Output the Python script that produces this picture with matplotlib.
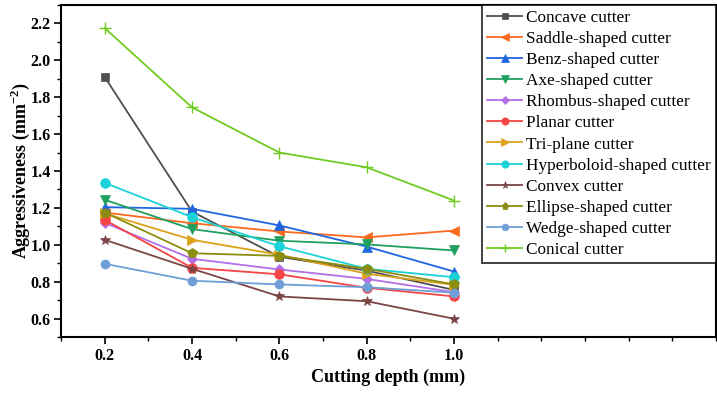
import matplotlib
matplotlib.use("Agg")
import matplotlib.pyplot as plt
from matplotlib.ticker import MultipleLocator

plt.rcParams['font.family'] = ['Liberation Serif', 'DejaVu Serif']
plt.rcParams['mathtext.fontset'] = 'custom'
plt.rcParams['mathtext.rm'] = 'Liberation Serif'
plt.rcParams['mathtext.bf'] = 'Liberation Serif:bold'

depth = [0.2, 0.4, 0.6, 0.8, 1.0]

names = ["Concave cutter", "Saddle-shaped cutter", "Benz-shaped cutter", "Axe-shaped cutter",
         "Rhombus-shaped cutter", "Planar cutter", "Tri-plane cutter", "Hyperboloid-shaped cutter",
         "Convex cutter", "Ellipse-shaped cutter", "Wedge-shaped cutter", "Conical cutter"]

concave = [1.91, 1.18, 0.935, 0.86, 0.755]
saddle = [1.175, 1.117, 1.072, 1.04, 1.077]
benz = [1.204, 1.195, 1.105, 0.99, 0.855]
axe = [1.244, 1.085, 1.022, 1.002, 0.969]
rhombus = [1.119, 0.924, 0.866, 0.815, 0.743]
planar = [1.135, 0.875, 0.84, 0.767, 0.72]
triplane = [1.17, 1.027, 0.946, 0.843, 0.783]
hyperboloid = [1.336, 1.15, 0.992, 0.87, 0.824]
convex = [1.027, 0.87, 0.72, 0.694, 0.599]
ellipse = [1.175, 0.954, 0.94, 0.87, 0.785]
wedge = [0.897, 0.805, 0.785, 0.77, 0.74]
conical = [2.175, 1.745, 1.50, 1.42, 1.24]

series = [concave, saddle, benz, axe, rhombus, planar, triplane, hyperboloid,
          convex, ellipse, wedge, conical]
colors = ["#4f4f4f", "#fa6a1e", "#1f66e0", "#20a060", "#b36ee8", "#f54545",
          "#dca21a", "#1ad3d8", "#7b4545", "#8c8c10", "#6e9fd6", "#70cc20"]
markers = ["s", "<", "^", "v", "D", "o", ">", "o", "*", "p", "o", "+"]
msizes = [6, 7, 7, 7, 5.5, 7, 7, 7, 7, 7, 6.5, 8]

fig = plt.figure(figsize=(7.17, 3.94), dpi=100)
ax = fig.add_axes([61/717, 57/394, 655/717, 332/394])

for vals, name, c, m, ms in zip(series, names, colors, markers, msizes):
    ax.plot(depth, vals, color=c, marker=m, markersize=ms, linewidth=1.3,
            markeredgewidth=1.0 if m == "+" else 0.5, label=name)

ax.set_xlim(0.1, 1.6)
ax.set_ylim(0.5, 2.3)
ax.set_xticks(depth)
ax.set_xticklabels(["0.2", "0.4", "0.6", "0.8", "1.0"])
ax.xaxis.set_minor_locator(MultipleLocator(0.1))
ax.set_yticks([0.6, 0.8, 1.0, 1.2, 1.4, 1.6, 1.8, 2.0, 2.2])
ax.yaxis.set_minor_locator(MultipleLocator(0.1))
ax.tick_params(which='major', direction='out', length=5, width=1.2, labelsize=11.5, pad=2.5)
ax.tick_params(axis='x', which='major', pad=3)
ax.tick_params(which='minor', direction='out', length=3, width=1.0)
for lab in ax.get_xticklabels() + ax.get_yticklabels():
    lab.set_fontweight('bold')
for s in ax.spines.values():
    s.set_linewidth(1.5)

ax.set_xlabel("Cutting depth (mm)", fontsize=13, fontweight='bold')
ax.set_ylabel(r"Aggressiveness (mm$^{\mathbf{-2}}$)", fontsize=13, fontweight='bold')
ax.xaxis.set_label_coords(0.5, -0.094)
ax.yaxis.set_label_coords(-0.045, 0.5)

leg = ax.legend(loc='upper right', bbox_to_anchor=(1.0, 1.0), borderaxespad=0.0,
                fontsize=12.4, frameon=True, fancybox=False, edgecolor='black',
                handlelength=2.0, handletextpad=0.25, labelspacing=0.29, borderpad=0.3,
                markerscale=0.75)
leg.get_frame().set_linewidth(1.3)

fig.savefig("out.png", dpi=100)
